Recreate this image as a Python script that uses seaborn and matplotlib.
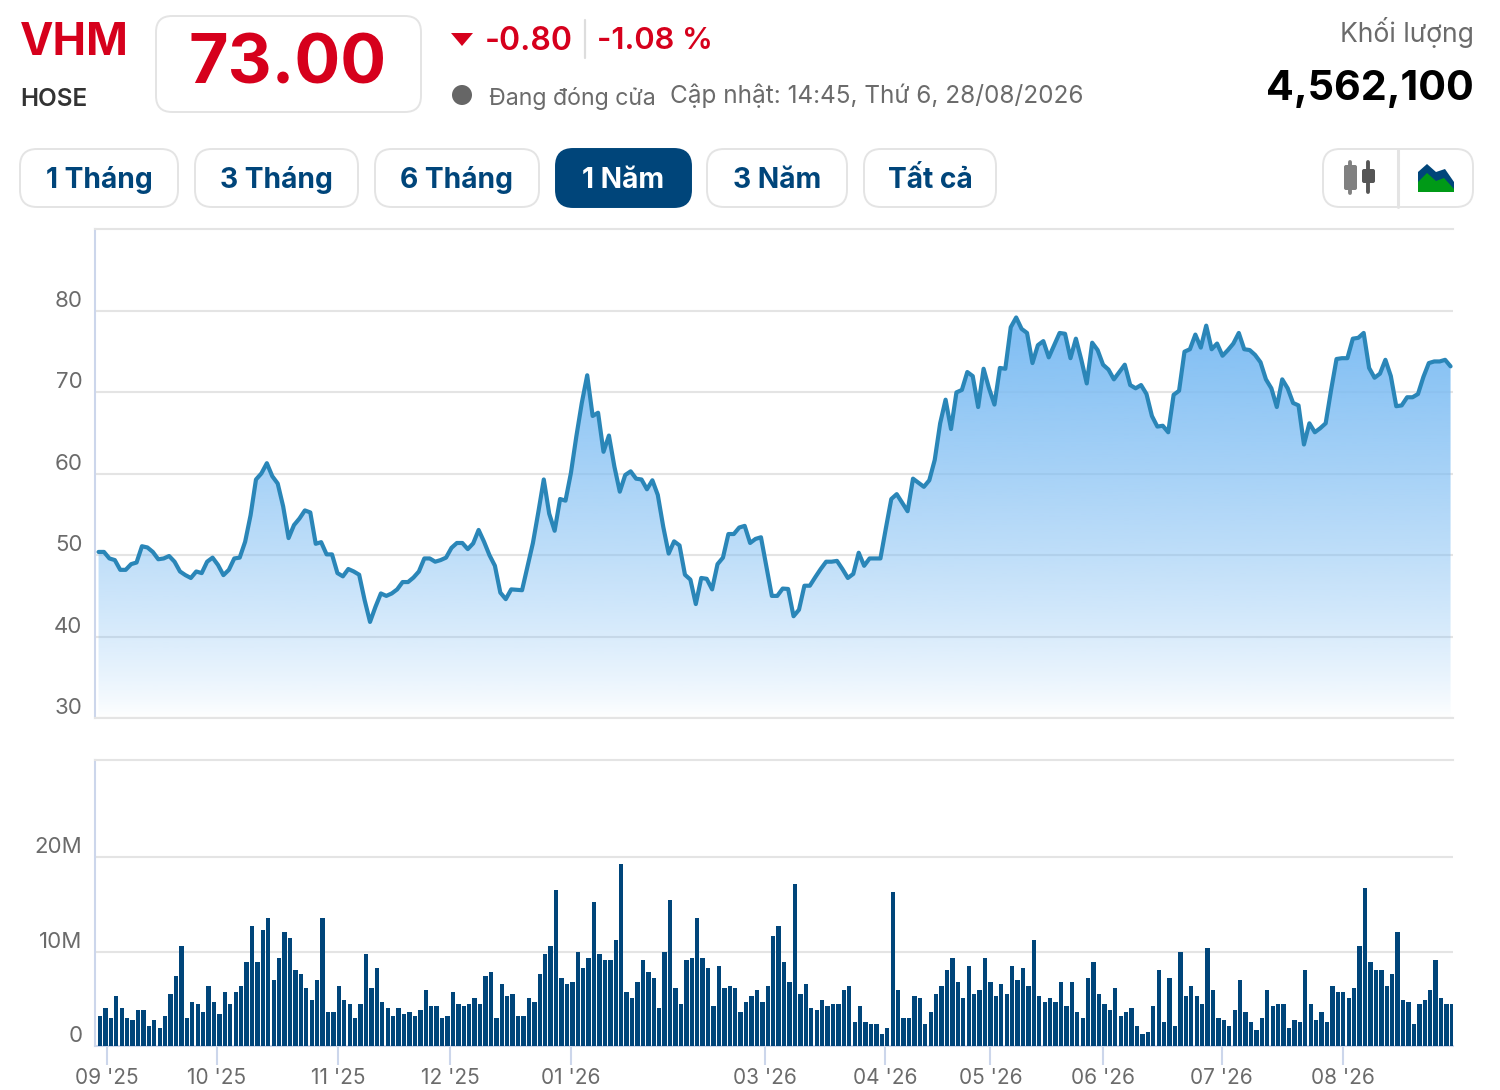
import numpy as np
import pandas as pd
import matplotlib
matplotlib.use('Agg')
import matplotlib.pyplot as plt
import seaborn as sns
from matplotlib.patches import FancyBboxPatch, Polygon, Circle

# Closing price per session
price = [
    50.4, 50.4, 49.6, 49.4, 48.2, 48.2, 48.9, 49.1, 51.1, 50.95,
    50.4, 49.5, 49.6, 49.9, 49.2, 48.0, 47.55, 47.2, 48.0, 47.8,
    49.2, 49.7, 48.8, 47.55, 48.2, 49.6, 49.7, 51.65, 54.9, 59.3,
    60.05, 61.3, 59.7, 58.8, 56.0, 52.1, 53.7, 54.5, 55.5, 55.25,
    51.4, 51.6, 50.1, 50.1, 47.8, 47.4, 48.3, 48.0, 47.6, 44.5,
    41.8, 43.65, 45.3, 45.0, 45.3, 45.8, 46.7, 46.7, 47.25, 48.0,
    49.6, 49.6, 49.2, 49.4, 49.7, 50.9, 51.5, 51.5, 50.75, 51.45,
    53.1, 51.65, 50.0, 48.7, 45.4, 44.6, 45.8, 45.75, 45.7, 48.6,
    51.5, 55.3, 59.3, 55.1, 53.0, 56.9, 56.7, 60.1, 64.6, 68.7,
    72.1, 67.1, 67.5, 62.7, 64.7, 60.9, 57.8, 59.85, 60.3, 59.4,
    59.3, 58.1, 59.2, 57.4, 53.5, 50.2, 51.7, 51.2, 47.6, 47.0,
    44.0, 47.2, 47.1, 45.8, 48.9, 49.7, 52.6, 52.6, 53.4, 53.6,
    51.5, 52.0, 52.2, 48.6, 45.0, 45.0, 45.9, 45.85, 42.5, 43.3,
    46.25, 46.25, 47.3, 48.3, 49.2, 49.2, 49.3, 48.3, 47.2, 47.7,
    50.3, 48.7, 49.6, 49.6, 49.6, 53.3, 56.9, 57.5, 56.45, 55.4,
    59.4, 58.9, 58.4, 59.2, 61.7, 66.2, 69.1, 65.5, 70.0, 70.3,
    72.5, 72.0, 68.2, 72.9, 70.5, 68.5, 73.0, 72.9, 78.0, 79.2,
    77.8, 77.3, 73.6, 75.8, 76.3, 74.3, 75.8, 77.3, 77.2, 74.2,
    76.6, 74.0, 71.1, 76.1, 75.2, 73.4, 72.8, 71.6, 72.5, 73.4,
    70.9, 70.5, 70.9, 69.8, 67.1, 65.8, 65.9, 65.1, 69.7, 70.2,
    75.0, 75.3, 77.1, 75.5, 78.2, 75.3, 76.0, 74.5, 75.2, 76.0,
    77.3, 75.3, 75.2, 74.6, 73.7, 71.6, 70.5, 68.2, 71.6, 70.5,
    68.7, 68.4, 63.6, 66.2, 65.1, 65.6, 66.2, 70.3, 74.1, 74.2,
    74.2, 76.6, 76.7, 77.3, 73.0, 71.8, 72.3, 74.0, 72.0, 68.3,
    68.4, 69.4, 69.4, 69.8, 71.9, 73.6, 73.8, 73.8, 74.0, 73.2,
]

# Volume per session, in millions of shares
volume = [
    3.2, 4.0, 3.0, 5.3, 4.0, 3.0, 2.8, 3.8, 3.8, 2.1,
    2.8, 1.9, 3.2, 5.5, 7.4, 10.6, 3.0, 4.7, 4.4, 3.6,
    6.3, 4.7, 3.4, 5.7, 4.4, 5.7, 6.3, 8.9, 12.7, 8.9,
    12.3, 13.5, 7.0, 9.3, 12.1, 11.4, 8.0, 7.6, 6.1, 4.9,
    7.0, 13.5, 3.6, 3.6, 6.3, 4.9, 4.4, 3.0, 4.4, 9.7,
    6.1, 8.3, 4.7, 4.0, 3.2, 4.0, 3.4, 3.6, 3.2, 3.8,
    5.9, 4.2, 4.2, 3.0, 3.2, 5.7, 4.4, 4.2, 4.4, 5.1,
    4.4, 7.4, 7.8, 3.0, 6.6, 5.3, 5.5, 3.2, 3.2, 5.1,
    4.7, 7.6,
    9.7, 10.6, 16.5, 7.2, 6.6, 6.8, 9.9, 8.3, 9.3, 15.2,
    9.7, 9.1, 9.1, 11.2, 19.3, 5.7, 5.1, 6.8, 9.1, 7.8,
    7.2, 4.0, 9.9, 15.4, 6.1, 4.4, 9.1, 9.3, 13.5, 9.3,
    8.3, 4.2, 8.5, 6.1, 6.3, 6.1, 3.6, 4.7, 5.3, 5.9,
    4.7, 6.3, 11.6, 12.7, 8.9, 6.8, 17.1, 5.5, 6.6, 4.0,
    3.8, 4.9, 4.2, 4.4, 4.4, 5.9, 6.3, 2.5, 4.2, 2.5,
    2.3, 2.3, 1.3, 1.9, 16.3, 5.9, 3.0, 3.0, 5.3, 5.1,
    2.3, 3.6, 5.5, 6.3, 8.0, 9.3, 6.8, 5.1, 8.5, 5.5,
    5.9, 9.3, 6.8,
    5.3, 6.6, 5.5, 8.5, 7.0, 8.3, 6.3, 11.2, 5.3, 4.7,
    5.1, 4.7, 6.8, 4.2, 6.8, 3.6, 3.0, 7.2, 8.9, 5.5,
    4.4, 3.8, 6.1, 3.2, 3.6, 4.0, 2.1, 1.3, 1.5, 4.2,
    8.0, 2.5, 7.2, 2.1, 9.9, 5.3, 6.3, 5.3, 4.4, 10.4,
    5.9, 3.0, 2.8, 2.1, 3.8, 7.0, 3.6, 2.5, 1.7, 3.0,
    5.9, 4.2, 4.4, 4.4, 1.9, 2.8, 2.5, 8.0, 4.4, 2.8,
    3.6, 2.5, 6.3, 5.7, 5.7, 5.1, 6.1, 10.6, 16.7, 8.9,
    8.0, 8.0, 6.3, 7.6, 12.1, 4.9, 4.7, 2.3, 4.4, 4.9,
    5.9, 9.1, 5.1, 4.4, 4.4,
]

month_labels = ["09 '25", "10 '25", "11 '25", "12 '25", "01 '26", "03 '26",
                "04 '26", "05 '26", "06 '26", "07 '26", "08 '26"]
month_pos = [1.3, 21.5, 43.8, 64.5, 86.7, 122.5, 144.6, 164.0, 184.7, 206.6, 228.9]
price_ticks = [30, 40, 50, 60, 70, 80]
volume_ticks = [0, 10, 20]
volume_tick_labels = ['0', '10M', '20M']
range_buttons = ['1 Tháng', '3 Tháng', '6 Tháng', '1 Năm', '3 Năm', 'Tất cả']

RED = '#D6001C'
NAVY = '#00457A'
GRID = '#E4E4E4'
AXIS = '#CCD6EB'
GREY = '#6B6B6B'
W, H = 1500, 1090

sessions = pd.DataFrame({'session': np.arange(len(price)), 'price': price})

sns.set_theme(style='white')
plt.rcParams['font.family'] = ['Inter', 'DejaVu Sans']

fig = plt.figure(figsize=(W / 100, H / 100), dpi=100, facecolor='white')


def px_axes(left, top, right, bottom):
    return fig.add_axes([left / W, 1 - bottom / H, (right - left) / W, (bottom - top) / H])


def style_chart_axes(ax, ticks, labels, bottom_color):
    ax.set_xlabel('')
    ax.set_ylabel('')
    ax.set_yticks(ticks)
    ax.set_yticklabels(labels, fontsize=16, color=GREY, va='bottom')
    ax.tick_params(axis='y', length=0, pad=9)
    ax.grid(axis='y', color=GRID, linewidth=1.5)
    ax.set_axisbelow(True)
    ax.spines['right'].set_visible(False)
    ax.spines['left'].set_color(AXIS)
    ax.spines['left'].set_linewidth(1.5)
    ax.spines['bottom'].set_color(bottom_color)
    ax.spines['bottom'].set_linewidth(1.5)
    ax.spines['top'].set_color(GRID)
    ax.spines['top'].set_linewidth(1.5)


# price panel, its points sit a touch left of the volume bars
ax_price = px_axes(95, 229, 1453, 718)
ax_price.set_ylim(30, 90.07)
fill = ax_price.fill_between(sessions['session'], sessions['price'], 30, color='none', linewidth=0)
gradient = np.zeros((256, 1, 4))
gradient[:, 0, 0] = 124 / 255
gradient[:, 0, 1] = 188 / 255
gradient[:, 0, 2] = 243 / 255
gradient[:, 0, 3] = np.linspace(1, 0, 256) ** 0.78
img = ax_price.imshow(gradient, extent=[-1, 250, 30, 80], origin='upper', aspect='auto', zorder=1.5)
img.set_clip_path(fill.get_paths()[0], ax_price.transData)
sns.lineplot(data=sessions, x='session', y='price', color='#2A86B8', linewidth=3.0,
             estimator=None, errorbar=None, ax=ax_price, zorder=3)
ax_price.set_xlim(-0.65, 249.45)
ax_price.set_ylim(30, 90.07)
style_chart_axes(ax_price, price_ticks, [str(t) for t in price_ticks], GRID)
ax_price.set_xticks([])

# volume panel
ax_vol = px_axes(95, 760, 1453, 1046)
sns.barplot(x=np.arange(len(volume)), y=volume, color=NAVY, saturation=1, width=0.8,
            native_scale=True, linewidth=0, ax=ax_vol, zorder=3)
ax_vol.set_xlim(-0.92, 249.2)
ax_vol.set_ylim(0, 30.27)
style_chart_axes(ax_vol, volume_ticks, volume_tick_labels, AXIS)
ax_vol.set_xticks(month_pos)
ax_vol.set_xticklabels(month_labels, fontsize=15, color=GREY)
ax_vol.tick_params(axis='x', length=14, width=1.5, color=AXIS, pad=2, bottom=True)

# header and buttons live in a pixel-coordinate layer
top = fig.add_axes([0, 0, 1, 1], facecolor='none')
top.set_xlim(0, W)
top.set_ylim(H, 0)
top.axis('off')


def round_box(x0, y0, x1, y1, radius, face='white', edge='#E4E4E4', lw=1.4):
    top.add_patch(FancyBboxPatch((x0, y0), x1 - x0, y1 - y0,
                                 boxstyle=f'round,pad=0,rounding_size={radius}',
                                 facecolor=face, edgecolor=edge, linewidth=lw))


top.text(20, 43, 'VHM', color=RED, fontsize=32.3, fontweight='bold', va='center', ha='left')
top.text(20, 99, 'HOSE', color='#333333', fontsize=17.5, fontweight='semibold', va='center', ha='left')
round_box(156, 16, 421, 112, 16)
top.text(288, 66, '73.00', color=RED, fontsize=49, fontweight='bold', va='center', ha='center')

top.add_patch(Polygon([[451, 33], [473, 33], [462, 46]], closed=True, facecolor=RED, edgecolor='none'))
top.text(485, 41, '-0.80', color=RED, fontsize=23, fontweight='semibold', va='center', ha='left')
top.plot([585, 585], [20, 58], color='#DDDDDD', linewidth=1.6)
top.text(597, 41, '-1.08 %', color=RED, fontsize=22.2, fontweight='semibold', va='center', ha='left')
top.add_patch(Circle((462, 95), 10, facecolor='#666666', edgecolor='none'))
top.text(489, 98, 'Đang đóng cửa', color=GREY, fontsize=16.7, va='center', ha='left')
top.text(670, 96, 'Cập nhật: 14:45, Thứ 6, 28/08/2026', color=GREY, fontsize=17.5, va='center', ha='left')

top.text(1474, 33, 'Khối lượng', color=GREY, fontsize=19.1, va='center', ha='right')
top.text(1474, 89, '4,562,100', color='black', fontsize=29.7, fontweight='bold', va='center', ha='right')

button_edges = [(20, 178), (195, 358), (375, 539), (556, 691), (707, 847), (864, 996)]
for label, (x0, x1) in zip(range_buttons, button_edges):
    active = label == '1 Năm'
    round_box(x0, 149, x1, 207, 17, face=NAVY if active else 'white', edge=NAVY if active else '#E4E4E4')
    top.text((x0 + x1) / 2, 180, label, color='white' if active else NAVY, fontsize=20.3,
             fontweight='bold', va='center', ha='center')

# chart-type switch
round_box(1323, 149, 1473, 207, 17)
top.plot([1397.5, 1397.5], [149, 207], color='#E4E4E4', linewidth=2.2)
top.plot([1350, 1350], [162, 193], color='#808080', linewidth=2.8)
top.add_patch(FancyBboxPatch((1344, 165), 13, 25, boxstyle='round,pad=0,rounding_size=2', facecolor='#808080', edgecolor='none'))
top.plot([1368, 1368], [162, 192], color='#555555', linewidth=2.8)
top.add_patch(FancyBboxPatch((1362, 169), 13, 14, boxstyle='round,pad=0,rounding_size=2', facecolor='#555555', edgecolor='none'))
top.add_patch(Polygon([[1418, 172], [1427, 164], [1436, 172], [1445, 169], [1454, 182], [1454, 192], [1418, 192]],
                      closed=True, facecolor=NAVY, edgecolor='none'))
top.add_patch(Polygon([[1418, 182], [1427, 173], [1436, 181], [1444, 178], [1454, 189], [1454, 192], [1418, 192]],
                      closed=True, facecolor='#009A17', edgecolor='none'))

fig.savefig('out.png', dpi=100, facecolor='white')
